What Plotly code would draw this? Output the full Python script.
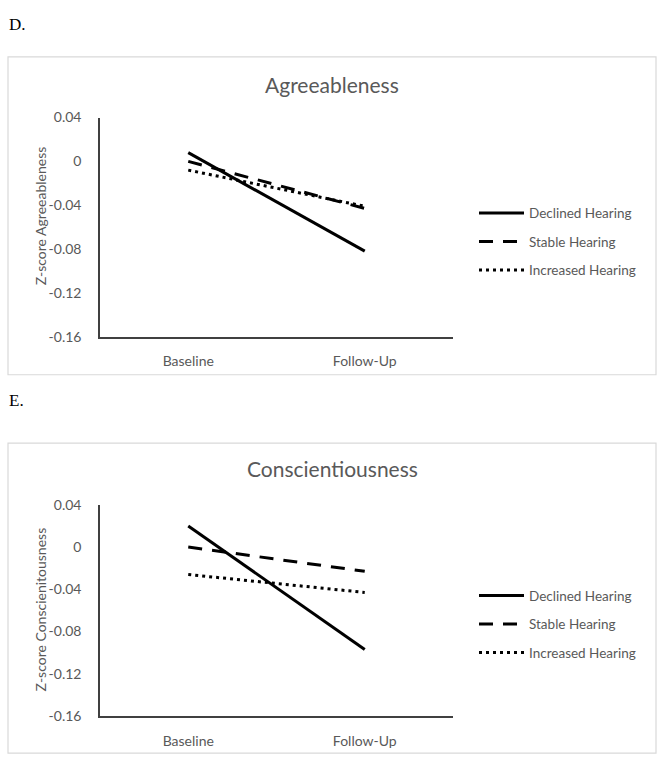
import plotly.graph_objects as go

W, H = 665, 770

categories = ["Baseline", "Follow-Up"]
series_names = ["Declined Hearing", "Stable Hearing", "Increased Hearing"]

agree_declined = [0.008, -0.082]
agree_stable = [0.0, -0.043]
agree_increased = [-0.008, -0.041]

consc_declined = [0.020, -0.097]
consc_stable = [0.0, -0.023]
consc_increased = [-0.026, -0.043]

y_ticks = [0.04, 0, -0.04, -0.08, -0.12, -0.16]
y_ticktext = ["0.04", "0", "-0.04", "-0.08", "-0.12", "-0.16"]

FONT = "Lato"
GRAY = "#595959"
DASHES = ["solid", "14px,10px", "3px,4px"]


def px_x(p):
    return p / W


def px_y(p):
    return 1 - p / H


fig = go.Figure()

panels = [
    dict(xa="x", ya="y", xaxis="xaxis", yaxis="yaxis", legend="legend",
         data=[agree_declined, agree_stable, agree_increased],
         box=(8, 49, 656, 374), plot=(100, 111, 453, 335),
         title="Agreeableness", title_y=77, letter="D.", letter_y=16,
         ytitle="Z-score Agreeableness", ytitle_y=212, leg_top=193),
    dict(xa="x2", ya="y2", xaxis="xaxis2", yaxis="yaxis2", legend="legend2",
         data=[consc_declined, consc_stable, consc_increased],
         box=(8, 444, 656, 761), plot=(100, 507, 453, 723),
         title="Conscientiousness", title_y=470, letter="E.", letter_y=400,
         ytitle="Z-score Conscienitousness", ytitle_y=614, leg_top=584),
]

shapes = []
annotations = []
layout_axes = {}

for p in panels:
    for name, vals, dash in zip(series_names, p["data"], DASHES):
        fig.add_trace(go.Scatter(
            x=categories, y=vals, name=name, mode="lines",
            line=dict(color="black", width=3, dash=dash),
            xaxis=p["xa"], yaxis=p["ya"], legend=p["legend"],
            legendgroup=p["legend"] + name,
        ))
    x0, y0, x1, y1 = p["plot"]
    layout_axes[p["xaxis"]] = dict(
        domain=[px_x(x0), px_x(x1)], anchor=p["ya"], type="category",
        range=[-0.5, 1.5], showgrid=False, zeroline=False,
        showline=True, linecolor="#404040", linewidth=1.5, ticks="",
        tickfont=dict(family=FONT, size=14, color=GRAY),
        ticklabelstandoff=11, fixedrange=True,
    )
    layout_axes[p["yaxis"]] = dict(
        domain=[px_y(y1), px_y(y0)], anchor=p["xa"], range=[-0.16, 0.04],
        tickvals=y_ticks, ticktext=y_ticktext, showgrid=False, zeroline=False,
        showline=True, linecolor="#404040", linewidth=1.5, ticks="",
        tickfont=dict(family=FONT, size=14, color=GRAY),
        ticklabelstandoff=14, fixedrange=True,
    )
    layout_axes[p["legend"]] = dict(
        x=px_x(474), y=px_y(p["leg_top"]), xanchor="left", yanchor="top",
        font=dict(family=FONT, size=13.5, color=GRAY), bgcolor="rgba(0,0,0,0)",
        tracegroupgap=8, itemwidth=45,
    )
    bx0, by0, bx1, by1 = p["box"]
    shapes.append(dict(type="rect", xref="paper", yref="paper",
                       x0=px_x(bx0), x1=px_x(bx1), y0=px_y(by1), y1=px_y(by0),
                       line=dict(color="#d9d9d9", width=1.2)))
    annotations.append(dict(text=p["title"], x=px_x(332), y=px_y(p["title_y"]),
                            xref="paper", yref="paper", showarrow=False,
                            xanchor="center", yanchor="middle",
                            font=dict(family=FONT, size=21, color=GRAY)))
    annotations.append(dict(text=p["letter"], x=px_x(7), y=px_y(p["letter_y"]),
                            xref="paper", yref="paper", showarrow=False,
                            xanchor="left", yanchor="middle",
                            font=dict(family="Liberation Serif", size=17, color="black")))
    annotations.append(dict(text=p["ytitle"], x=px_x(40), y=px_y(p["ytitle_y"]),
                            xref="paper", yref="paper", showarrow=False,
                            xanchor="center", yanchor="middle",
                            textangle=-90,
                            font=dict(family=FONT, size=14, color=GRAY)))

fig.update_layout(
    width=W, height=H, margin=dict(l=0, r=0, t=0, b=0),
    paper_bgcolor="white", plot_bgcolor="white",
    shapes=shapes, annotations=annotations, showlegend=True,
    hovermode=False,
    **layout_axes,
)

fig.write_html("out.html", config={"displayModeBar": False},
               post_script="document.body.style.margin='0';")
